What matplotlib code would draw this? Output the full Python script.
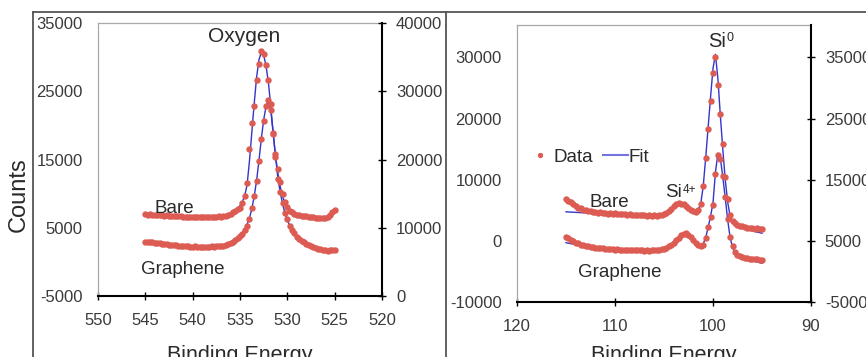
import numpy as np
import matplotlib.pyplot as plt
from matplotlib.lines import Line2D

plt.rcParams['font.family'] = ['Liberation Sans', 'DejaVu Sans']
plt.rcParams['axes.unicode_minus'] = False

# ---- O 1s panel (binding energy 545 -> 525 eV, 0.25 eV steps) ----
o_energy = np.arange(545, 524.9, -0.25)
o_bare = [
    6950, 6900, 6980, 6870, 6900, 6820, 6880, 6800, 6760, 6820,
    6750, 6700, 6760, 6680, 6650, 6700, 6620, 6580, 6640, 6560,
    6600, 6520, 6580, 6540, 6600, 6520, 6560, 6600, 6540, 6620,
    6580, 6650, 6620, 6700, 6780, 6900, 7050, 7250, 7500, 7700,
    7900, 8600, 9600, 11500, 16600, 20300, 22800, 26600, 29000, 30900,
    30500, 28800, 26600, 23200, 18800, 15800, 13600, 11700, 9900, 8700,
    8000, 7500, 7250, 7050, 6900, 6800, 6750, 6700, 6650, 6600,
    6560, 6520, 6500, 6480, 6450, 6420, 6450, 6600, 6900, 7250,
    7650]
o_bare_fit = [
    6800, 6790, 6780, 6770, 6760, 6750, 6740, 6730, 6720, 6710,
    6700, 6690, 6680, 6670, 6660, 6650, 6640, 6630, 6620, 6610,
    6600, 6600, 6590, 6590, 6580, 6580, 6580, 6590, 6600, 6610,
    6630, 6660, 6700, 6760, 6840, 6950, 7100, 7300, 7550, 7850,
    8250, 8800, 9700, 11300, 14800, 19000, 23200, 27000, 29600, 30700,
    30300, 28700, 26300, 22800, 18900, 15500, 13000, 11000, 9600, 8600,
    7900, 7450, 7150, 6950, 6800, 6700, 6640, 6590, 6550, 6520,
    6500, 6480, 6470, 6460, 6460, 6470, 6500, 6600, 6800, 7100,
    7500]
o_graphene = [
    2950, 2900, 2850, 2880, 2750, 2700, 2720, 2620, 2580, 2600,
    2520, 2480, 2450, 2420, 2380, 2350, 2300, 2280, 2320, 2250,
    2220, 2260, 2200, 2240, 2180, 2220, 2250, 2200, 2260, 2230,
    2280, 2300, 2320, 2380, 2450, 2550, 2700, 2900, 3150, 3450,
    3800, 4150, 4600, 5300, 6300, 7900, 9600, 11800, 14800, 18000,
    20700, 22800, 23700, 22300, 18900, 15400, 12200, 10300, 8600, 7200,
    6300, 5300, 4700, 4200, 3700, 3350, 3050, 2850, 2650, 2450,
    2300, 2150, 2050, 1950, 1850, 1780, 1700, 1650, 1680, 1750,
    1800]
o_graphene_fit = [
    2850, 2800, 2760, 2720, 2680, 2640, 2600, 2570, 2540, 2510,
    2480, 2450, 2420, 2400, 2380, 2360, 2340, 2320, 2300, 2290,
    2280, 2270, 2260, 2250, 2250, 2250, 2250, 2260, 2270, 2280,
    2300, 2330, 2370, 2420, 2490, 2580, 2700, 2870, 3100, 3400,
    3800, 4250, 4800, 5500, 6400, 7800, 9600, 11900, 14800, 18000,
    20800, 22800, 23500, 22200, 19000, 15500, 12300, 10200, 8500, 7100,
    6100, 5300, 4650, 4150, 3700, 3350, 3050, 2800, 2600, 2420,
    2270, 2130, 2020, 1920, 1830, 1750, 1680, 1620, 1570, 1530,
    1500]

# ---- Si 2p panel (binding energy 115 -> 95 eV, 0.25 eV steps) ----
si_energy = np.arange(115, 94.9, -0.25)
si_bare = [
    6800, 6550, 6300, 5950, 5750, 5450, 5350, 5100, 5050, 4880,
    4900, 4720, 4780, 4620, 4680, 4520, 4600, 4460, 4540, 4420,
    4480, 4360, 4430, 4320, 4380, 4280, 4350, 4240, 4300, 4200,
    4280, 4180, 4250, 4140, 4200, 4100, 4180, 4120, 4240, 4260,
    4420, 4580, 4920, 5280, 5720, 5980, 6170, 6080, 5970, 5630,
    5320, 4980, 4820, 4730, 5000, 6100, 9000, 13500, 18300, 22800,
    27500, 30000, 25500, 20800, 15800, 10500, 6800, 4300, 3300, 2900,
    2650, 2500, 2380, 2230, 2180, 2080, 2080, 1980, 2030, 1960,
    2000]
si_bare_fit = [
    4750, 4720, 4700, 4680, 4660, 4640, 4620, 4600, 4580, 4560,
    4540, 4520, 4500, 4480, 4460, 4440, 4420, 4400, 4380, 4370,
    4360, 4350, 4330, 4320, 4300, 4290, 4280, 4270, 4260, 4250,
    4240, 4220, 4200, 4190, 4180, 4170, 4170, 4190, 4230, 4300,
    4430, 4630, 4920, 5280, 5650, 5950, 6100, 6050, 5900, 5620,
    5300, 5020, 4850, 4800, 5050, 6100, 8900, 13500, 18500, 23500,
    28200, 30500, 26500, 20500, 15000, 10000, 6300, 4000, 3000, 2600,
    2350, 2200, 2050, 1950, 1850, 1750, 1650, 1550, 1450, 1350,
    1250]
si_graphene = [
    650, 420, 130, -80, -320, -430, -620, -700, -830, -860,
    -980, -1000, -1110, -1100, -1210, -1190, -1290, -1270, -1360, -1330,
    -1420, -1380, -1460, -1420, -1500, -1450, -1530, -1480, -1550, -1500,
    -1570, -1510, -1580, -1520, -1580, -1510, -1560, -1480, -1470, -1360,
    -1290, -1100, -920, -600, -300, 120, 480, 920, 1180, 1270,
    980, 620, 130, -280, -670, -780, -620, 500, 2200, 3900,
    5800, 11000, 14100, 13400, 10600, 7200, 3600, 700, -900, -1900,
    -2300, -2520, -2630, -2780, -2830, -2930, -2930, -3030, -3030, -3080,
    -3100]
si_graphene_fit = [
    -300, -380, -460, -540, -620, -690, -760, -820, -870, -920,
    -970, -1020, -1070, -1110, -1160, -1200, -1240, -1280, -1320, -1350,
    -1380, -1400, -1430, -1450, -1470, -1480, -1500, -1510, -1520, -1530,
    -1540, -1540, -1550, -1550, -1550, -1540, -1520, -1490, -1440, -1370,
    -1260, -1100, -880, -600, -260, 120, 500, 880, 1150, 1200,
    980, 580, 150, -280, -600, -720, -480, 500, 2200, 4000,
    6200, 11200, 14300, 13500, 10500, 7000, 3400, 500, -1100, -2000,
    -2450, -2700, -2850, -2950, -3050, -3150, -3250, -3350, -3450, -3550,
    -3650]

o_xticks = [550, 545, 540, 535, 530, 525, 520]
o_yticks = [-5000, 5000, 15000, 25000, 35000]
si_xticks = [120, 110, 100, 90]
si_yticks = [-10000, 0, 10000, 20000, 30000]

RED = '#dc5b52'
BLUE = '#3535c8'
TXT = '#2a2a2a'
W, H = 866, 357


def px_box(x0, y0, x1, y1):
    # pixel box (top-left origin) -> figure fraction rect
    return [x0 / W, 1 - y1 / H, (x1 - x0) / W, (y1 - y0) / H]


def style_panel(ax, xlim, xticks, ylim, yticks, y2off, xpad):
    ax.set_xlim(*xlim)
    ax.set_ylim(*ylim)
    ax.set_xticks(xticks)
    ax.set_yticks(yticks)
    for s in ('left', 'top'):
        ax.spines[s].set_color('#a8a8a8')
        ax.spines[s].set_linewidth(0.9)
    ax.spines['right'].set_visible(False)
    ax.spines['bottom'].set_color('black')
    ax.spines['bottom'].set_linewidth(1.5)
    ax.tick_params(axis='x', direction='inout', length=6, width=1,
                   pad=xpad, labelsize=12, labelcolor='#3a3a3a')
    ax.tick_params(axis='y', length=0, pad=11, labelsize=12,
                   labelcolor='#3a3a3a')

    ax2 = ax.twinx()
    ax2.set_ylim(ylim[0] + y2off, ylim[1] + y2off)
    ax2.set_yticks([t + y2off for t in yticks])
    for s in ('left', 'top', 'bottom'):
        ax2.spines[s].set_visible(False)
    ax2.spines['right'].set_color('black')
    ax2.spines['right'].set_linewidth(1.5)
    ax2.tick_params(axis='y', direction='inout', length=6, width=1,
                    pad=7, labelsize=12, labelcolor='#3a3a3a')
    return ax2


def plot_series(ax, x, data, fit):
    ax.plot(x, fit, color=BLUE, lw=1.0, zorder=2)
    ax.plot(x, data, ls='none', marker='o', ms=4.6, mfc=RED, mec=RED,
            mew=0, zorder=3)


fig = plt.figure(figsize=(W / 100, H / 100), dpi=100)

# ---------------- left: Oxygen ----------------
ax_o = fig.add_axes(px_box(98, 23, 382, 296))
plot_series(ax_o, o_energy, o_bare, o_bare_fit)
plot_series(ax_o, o_energy, o_graphene, o_graphene_fit)
style_panel(ax_o, (550, 520), o_xticks, (-5000, 35000), o_yticks, 5000, 9)
ax_o.text(534.6, 32250, 'Oxygen', ha='center', va='baseline',
          fontsize=15, color=TXT)
ax_o.text(541.9, 7200, 'Bare', ha='center', va='baseline',
          fontsize=13.5, color=TXT)
ax_o.text(541.0, -1780, 'Graphene', ha='center', va='baseline',
          fontsize=13.5, color=TXT)

# ---------------- right: Silicon ----------------
ax_s = fig.add_axes(px_box(517, 25, 811, 302))
plot_series(ax_s, si_energy, si_bare, si_bare_fit)
plot_series(ax_s, si_energy, si_graphene, si_graphene_fit)
style_panel(ax_s, (120, 90), si_xticks, (-10000, 35300), si_yticks, 5000, 9)

si0 = ax_s.text(100.5, 31750, 'Si', ha='left', va='baseline',
                fontsize=14.5, color=TXT)
ax_s.annotate('0', xy=(1, 1), xycoords=si0, xytext=(0.5, 0),
              textcoords='offset points', ha='left', va='top',
              fontsize=9, color=TXT)
si4 = ax_s.text(104.85, 7240, 'Si', ha='left', va='baseline',
                fontsize=13.5, color=TXT)
ax_s.annotate('4+', xy=(1, 1), xycoords=si4, xytext=(0.5, 0),
              textcoords='offset points', ha='left', va='top',
              fontsize=8.5, color=TXT)
ax_s.text(110.55, 5600, 'Bare', ha='center', va='baseline',
          fontsize=13.5, color=TXT)
ax_s.text(109.55, -5960, 'Graphene', ha='center', va='baseline',
          fontsize=13.5, color=TXT)

handles = [Line2D([], [], ls='none', marker='o', ms=2.8, mfc=RED, mec=RED),
           Line2D([], [], color='#7474e0', lw=1.5)]
ax_s.legend(handles, ['Data', 'Fit'], ncol=2, frameon=False, numpoints=1,
            fontsize=13.5, handlelength=1.33, handletextpad=0.05,
            columnspacing=0.5, borderpad=0, borderaxespad=0,
            loc='center left', bbox_to_anchor=(527.8 / W, 1 - 157 / H),
            bbox_transform=fig.transFigure, labelcolor=TXT)

# axis titles
fig.text(19 / W, 1 - 195 / H, 'Counts', rotation=90, ha='center',
         va='center', fontsize=17, color=TXT)
fig.text(240 / W, 1 - 361 / H, 'Binding Energy', ha='center',
         va='baseline', fontsize=15.5, color=TXT)
fig.text(664 / W, 1 - 361 / H, 'Binding Energy', ha='center',
         va='baseline', fontsize=15.5, color=TXT)

# outer frame lines around the two panels
frame = dict(color='#555555', lw=1.3, transform=fig.transFigure)
fig.add_artist(Line2D([33 / W, 1], [1 - 12 / H] * 2, **frame))
fig.add_artist(Line2D([33 / W] * 2, [0, 1 - 12 / H], **frame))
fig.add_artist(Line2D([446 / W] * 2, [0, 1 - 12 / H], **frame))

fig.savefig('out.png', dpi=100)
